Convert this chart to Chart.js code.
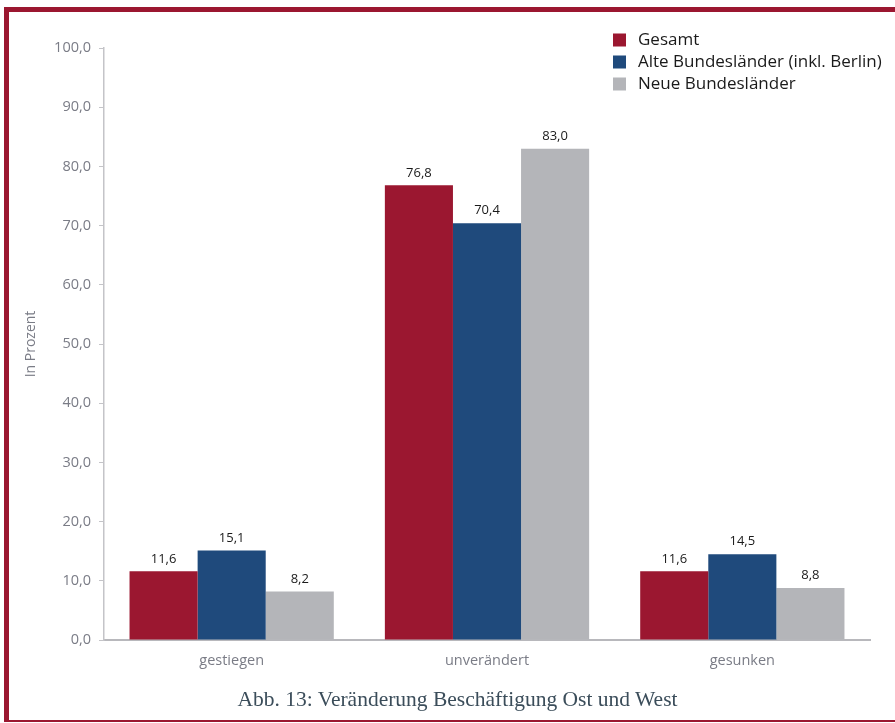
<!DOCTYPE html>
<html lang="de">
<head>
<meta charset="utf-8">
<script src="https://cdn.jsdelivr.net/npm/chart.js@4/dist/chart.umd.min.js"></script>
<style>
  html, body { margin: 0; padding: 0; background: #ffffff; overflow: hidden; }
  #wrap { position: relative; width: 895px; height: 723px; }
  #chart { position: absolute; left: 0; top: 0; }
  #frame {
    position: absolute; left: 4px; top: 7px; right: -10px; bottom: 1px;
    border-top: 5px solid #9b1730; border-left: 5px solid #9b1730; border-bottom: 2px solid #9b1730;
    pointer-events: none;
  }
  #caption {
    position: absolute; left: 0; width: 915px; top: 686px;
    text-align: center; white-space: nowrap;
    font-family: "Liberation Serif", serif; font-size: 21.5px; line-height: 26px;
    color: #3b4d5a;
  }
</style>
</head>
<body>
<div id="wrap">
  <canvas id="chart" width="895" height="723"></canvas>
  <div id="frame"></div>
  <div id="caption">Abb. 13: Veränderung Beschäftigung Ost und West</div>
</div>
<script>
// Categories and series (percent)
const categories = ['gestiegen', 'unverändert', 'gesunken'];
const seriesNames = ['Gesamt', 'Alte Bundesländer (inkl. Berlin)', 'Neue Bundesländer'];
const gesamt = [11.6, 76.8, 11.6];
const alteLaender = [15.1, 70.4, 14.5];
const neueLaender = [8.2, 83.0, 8.8];
const yTicks = [0, 10, 20, 30, 40, 50, 60, 70, 80, 90, 100];
const seriesColors = ['#9b1730', '#1f4a7c', '#b4b5b9'];

const FONT = '"Open Sans", sans-serif';
const fmt = v => v.toFixed(1).replace('.', ',');

// Value labels above each bar
const valueLabels = {
  id: 'valueLabels',
  afterDatasetsDraw(chart) {
    const ctx = chart.ctx;
    ctx.save();
    ctx.font = '13px ' + FONT;
    ctx.fillStyle = '#1a1a1a';
    ctx.textAlign = 'center';
    ctx.textBaseline = 'bottom';
    chart.data.datasets.forEach((ds, i) => {
      chart.getDatasetMeta(i).data.forEach((bar, j) => {
        ctx.fillText(fmt(ds.data[j]), bar.x, bar.y - 6);
      });
    });
    ctx.restore();
  }
};

// Legend stacked in the top-right corner
const cornerLegend = {
  id: 'cornerLegend',
  afterDraw(chart) {
    const ctx = chart.ctx;
    ctx.save();
    ctx.font = '17px ' + FONT;
    ctx.textBaseline = 'middle';
    ctx.textAlign = 'left';
    chart.data.datasets.forEach((ds, i) => {
      const y = 40 + i * 22;
      ctx.fillStyle = ds.backgroundColor;
      ctx.fillRect(613, y - 6.5, 13, 13);
      ctx.fillStyle = '#1a1a1a';
      ctx.fillText(ds.label, 638, y);
    });
    ctx.restore();
  }
};

new Chart(document.getElementById('chart'), {
  type: 'bar',
  data: {
    labels: categories,
    datasets: [
      { label: seriesNames[0], data: gesamt, backgroundColor: seriesColors[0] },
      { label: seriesNames[1], data: alteLaender, backgroundColor: seriesColors[1] },
      { label: seriesNames[2], data: neueLaender, backgroundColor: seriesColors[2] }
    ]
  },
  options: {
    responsive: false,
    animation: false,
    devicePixelRatio: 1,
    layout: { padding: { top: 48, right: 25, left: 0, bottom: 43 } },
    datasets: { bar: { categoryPercentage: 0.8, barPercentage: 1.0 } },
    plugins: {
      legend: { display: false },
      tooltip: { enabled: false }
    },
    scales: {
      x: {
        grid: { display: false, drawTicks: false },
        border: { color: '#b8b8bc', width: 2 },
        ticks: { color: '#7a7c86', font: { family: FONT, size: 14.5 }, padding: 12 },
        afterFit(scale) { scale.height = 40; }
      },
      y: {
        min: 0, max: 100,
        afterBuildTicks(scale) { scale.ticks = yTicks.map(v => ({ value: v })); },
        grid: { drawOnChartArea: false, tickLength: 5, color: '#c4c4c8' },
        border: { color: '#c4c4c8', width: 1.5 },
        ticks: {
          color: '#7a7c86', padding: 8,
          font: { family: FONT, size: 14.5 },
          callback: v => fmt(v)
        },
        title: {
          display: true, text: 'In Prozent', color: '#7a7c86',
          font: { family: FONT, size: 14 },
          padding: { top: 23, bottom: 0 }
        },
        afterFit(scale) { scale.width = 104; }
      }
    }
  },
  plugins: [valueLabels, cornerLegend]
});
</script>
</body>
</html>
